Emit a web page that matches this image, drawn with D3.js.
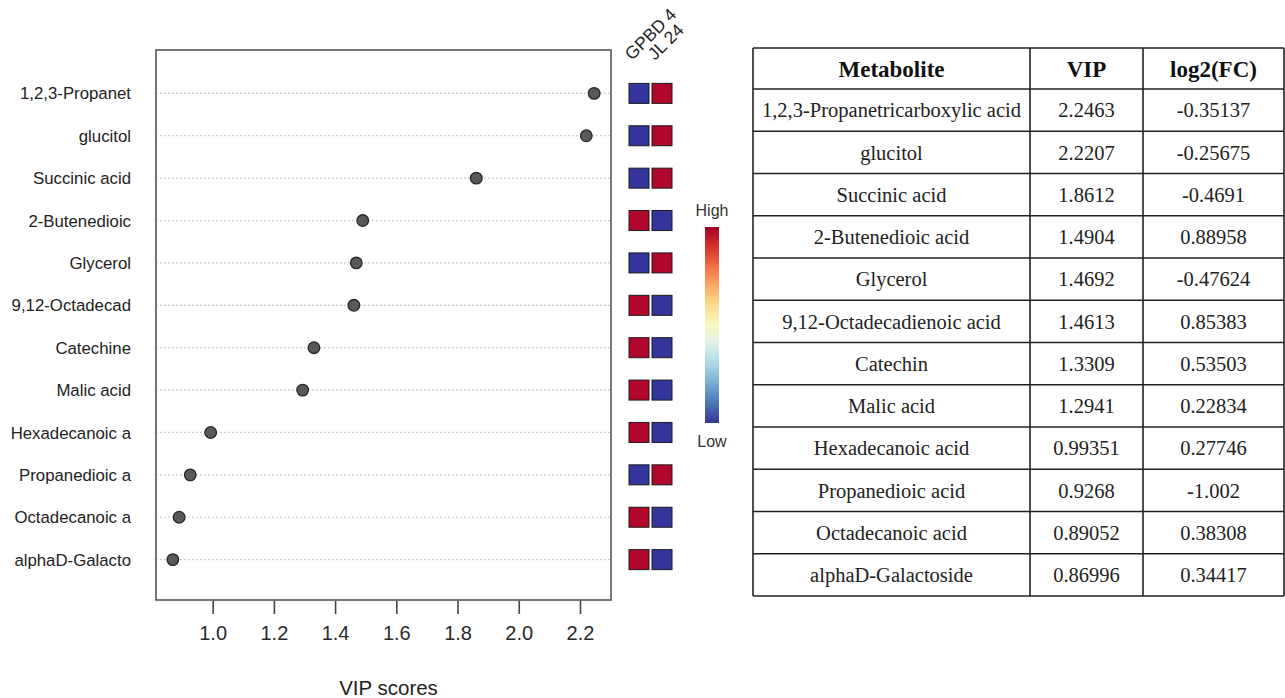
<!DOCTYPE html>
<html>
<head>
<meta charset="utf-8">
<script src="https://cdn.jsdelivr.net/npm/d3@7"></script>
<style>
  body { margin: 0; background: #fff; }
  svg { display: block; }
</style>
</head>
<body>
<script>
var shortNames = ["1,2,3-Propanet", "glucitol", "Succinic acid", "2-Butenedioic", "Glycerol",
  "9,12-Octadecad", "Catechine", "Malic acid", "Hexadecanoic a", "Propanedioic a",
  "Octadecanoic a", "alphaD-Galacto"];
var metabolites = ["1,2,3-Propanetricarboxylic acid", "glucitol", "Succinic acid", "2-Butenedioic acid",
  "Glycerol", "9,12-Octadecadienoic acid", "Catechin", "Malic acid", "Hexadecanoic acid",
  "Propanedioic acid", "Octadecanoic acid", "alphaD-Galactoside"];
var vip = [2.2463, 2.2207, 1.8612, 1.4904, 1.4692, 1.4613, 1.3309, 1.2941, 0.99351, 0.9268, 0.89052, 0.86996];
var log2fc = [-0.35137, -0.25675, -0.4691, 0.88958, -0.47624, 0.85383, 0.53503, 0.22834, 0.27746, -1.002, 0.38308, 0.34417];
var groups = ["GPBD 4", "JL 24"];
// 1 = high, 0 = low  (GPBD 4, JL 24)
var levels = [[0, 1], [0, 1], [0, 1], [1, 0], [0, 1], [1, 0], [1, 0], [1, 0], [1, 0], [0, 1], [1, 0], [1, 0]];
var xTicks = [1.0, 1.2, 1.4, 1.6, 1.8, 2.0, 2.2];
var headers = ["Metabolite", "VIP", "log2(FC)"];

var W = 1285, H = 698;
var box = {left: 156, right: 611, top: 50, bottom: 600};
var n = vip.length;

var svg = d3.select("body").append("svg")
  .attr("width", W).attr("height", H);

// R style xlim: range extended by 4%
var ext = d3.extent(vip), pad = (ext[1] - ext[0]) * 0.04;
var xScale = d3.scaleLinear()
  .domain([ext[0] - pad, ext[1] + pad])
  .range([box.left, box.right]);
var yScale = d3.scaleLinear()
  .domain([0, n + 1])
  .range([box.bottom + 2, box.top + 1]);
function rowY(i) { return yScale(n - i); }

// dotted guide lines
svg.append("g").selectAll("line")
  .data(vip).enter().append("line")
  .attr("x1", box.left).attr("x2", box.right)
  .attr("y1", function(d, i){ return rowY(i); })
  .attr("y2", function(d, i){ return rowY(i); })
  .attr("stroke", "#bdbdbd")
  .attr("stroke-width", 1.2)
  .attr("stroke-dasharray", "1.5,2.5");

// points
svg.append("g").selectAll("circle")
  .data(vip).enter().append("circle")
  .attr("cx", function(d){ return xScale(d); })
  .attr("cy", function(d, i){ return rowY(i); })
  .attr("r", 5.8)
  .attr("fill", "#595959")
  .attr("stroke", "#262626")
  .attr("stroke-width", 1.3);

// box
svg.append("rect")
  .attr("x", box.left).attr("y", box.top)
  .attr("width", box.right - box.left).attr("height", box.bottom - box.top)
  .attr("fill", "none").attr("stroke", "#555").attr("stroke-width", 1.6);

// row labels
svg.append("g").selectAll("text")
  .data(shortNames).enter().append("text")
  .attr("x", 131)
  .attr("y", function(d, i){ return rowY(i); })
  .attr("dy", "0.36em")
  .attr("text-anchor", "end")
  .style("font-family", "Liberation Sans, Arial, sans-serif")
  .style("font-size", "16.8px")
  .attr("fill", "#222")
  .text(function(d){ return d; });

// x axis
var xAxis = d3.axisBottom(xScale)
  .tickValues(xTicks)
  .tickSize(13)
  .tickPadding(12)
  .tickFormat(d3.format(".1f"));
var gx = svg.append("g")
  .attr("transform", "translate(0," + (box.bottom + 1) + ")")
  .call(xAxis);
gx.select(".domain").remove();
gx.selectAll(".tick line").attr("stroke", "#444").attr("stroke-width", 1.6);
gx.selectAll(".tick text")
  .style("font-family", "Liberation Sans, Arial, sans-serif")
  .style("font-size", "20px")
  .attr("fill", "#2a2a2a");

svg.append("text")
  .attr("x", (box.left + box.right) / 2 + 5)
  .attr("y", 695)
  .attr("text-anchor", "middle")
  .style("font-family", "Liberation Sans, Arial, sans-serif")
  .style("font-size", "20.5px")
  .attr("fill", "#222")
  .text("VIP scores");

// heat squares
var color = function(v){ return v ? "#b1072c" : "#33359d"; };
var cell = 20, gap = 3, heatX = 629;
var heat = svg.append("g");
levels.forEach(function(row, i){
  heat.selectAll(null)
    .data(row).enter().append("rect")
    .attr("x", function(d, j){ return heatX + j * (cell + gap); })
    .attr("y", rowY(i) - cell / 2)
    .attr("width", cell).attr("height", cell)
    .attr("fill", function(d){ return color(d); })
    .attr("stroke", "#1a1a1a")
    .attr("stroke-width", 1);
});

svg.append("g").selectAll("text")
  .data(groups).enter().append("text")
  .attr("transform", function(d, j){
    return "translate(" + (heatX + 3 + j * (cell + gap)) + "," + 61 + ") rotate(-45)";
  })
  .style("font-family", "Liberation Sans, Arial, sans-serif")
  .style("font-size", "17.5px")
  .attr("fill", "#222")
  .text(function(d){ return d; });

// colour key
var defs = svg.append("defs");
var grad = defs.append("linearGradient")
  .attr("id", "key").attr("x1", 0).attr("y1", 1).attr("x2", 0).attr("y2", 0);
d3.range(0, 1.001, 0.1).forEach(function(t){
  grad.append("stop").attr("offset", t).attr("stop-color", d3.interpolateRdYlBu(1 - t));
});
svg.append("rect")
  .attr("x", 705).attr("y", 227).attr("width", 14).attr("height", 196)
  .attr("fill", "url(#key)");
svg.append("text").attr("x", 712).attr("y", 216).attr("text-anchor", "middle")
  .style("font-family", "Liberation Sans, Arial, sans-serif").style("font-size", "16px")
  .attr("fill", "#333").text("High");
svg.append("text").attr("x", 712).attr("y", 447).attr("text-anchor", "middle")
  .style("font-family", "Liberation Sans, Arial, sans-serif").style("font-size", "16px")
  .attr("fill", "#333").text("Low");

// table
var colX = [753, 1030, 1143, 1284];
var tTop = 48, headH = 41;
var tY = d3.scaleLinear().domain([0, n]).range([tTop + headH, 596]);
var tab = svg.append("g");
var rows = metabolites.map(function(m, i){ return [m, String(vip[i]), String(log2fc[i])]; });

tab.selectAll(".hd")
  .data(headers).enter().append("text")
  .attr("x", function(d, j){ return (colX[j] + colX[j + 1]) / 2; })
  .attr("y", tTop + headH / 2)
  .attr("dy", "0.35em")
  .attr("text-anchor", "middle")
  .style("font-family", "Liberation Serif, Times New Roman, serif")
  .style("font-size", "23px")
  .style("font-weight", "bold")
  .attr("fill", "#111")
  .text(function(d){ return d; });

rows.forEach(function(r, i){
  tab.selectAll(null)
    .data(r).enter().append("text")
    .attr("x", function(d, j){ return (colX[j] + colX[j + 1]) / 2; })
    .attr("y", (tY(i) + tY(i + 1)) / 2)
    .attr("dy", "0.35em")
    .attr("text-anchor", "middle")
    .style("font-family", "Liberation Serif, Times New Roman, serif")
    .style("font-size", "20.5px")
    .attr("fill", "#222")
    .text(function(d){ return d; });
});

var hLines = [tTop].concat(d3.range(0, n + 1).map(tY));
tab.selectAll(".hl")
  .data(hLines).enter().append("line")
  .attr("x1", colX[0]).attr("x2", colX[3])
  .attr("y1", function(d){ return d; }).attr("y2", function(d){ return d; })
  .attr("stroke", "#222").attr("stroke-width", 1.6);
tab.selectAll(".vl")
  .data(colX).enter().append("line")
  .attr("x1", function(d){ return d; }).attr("x2", function(d){ return d; })
  .attr("y1", tTop).attr("y2", tY(n))
  .attr("stroke", "#222").attr("stroke-width", 1.6);
</script>
</body>
</html>
